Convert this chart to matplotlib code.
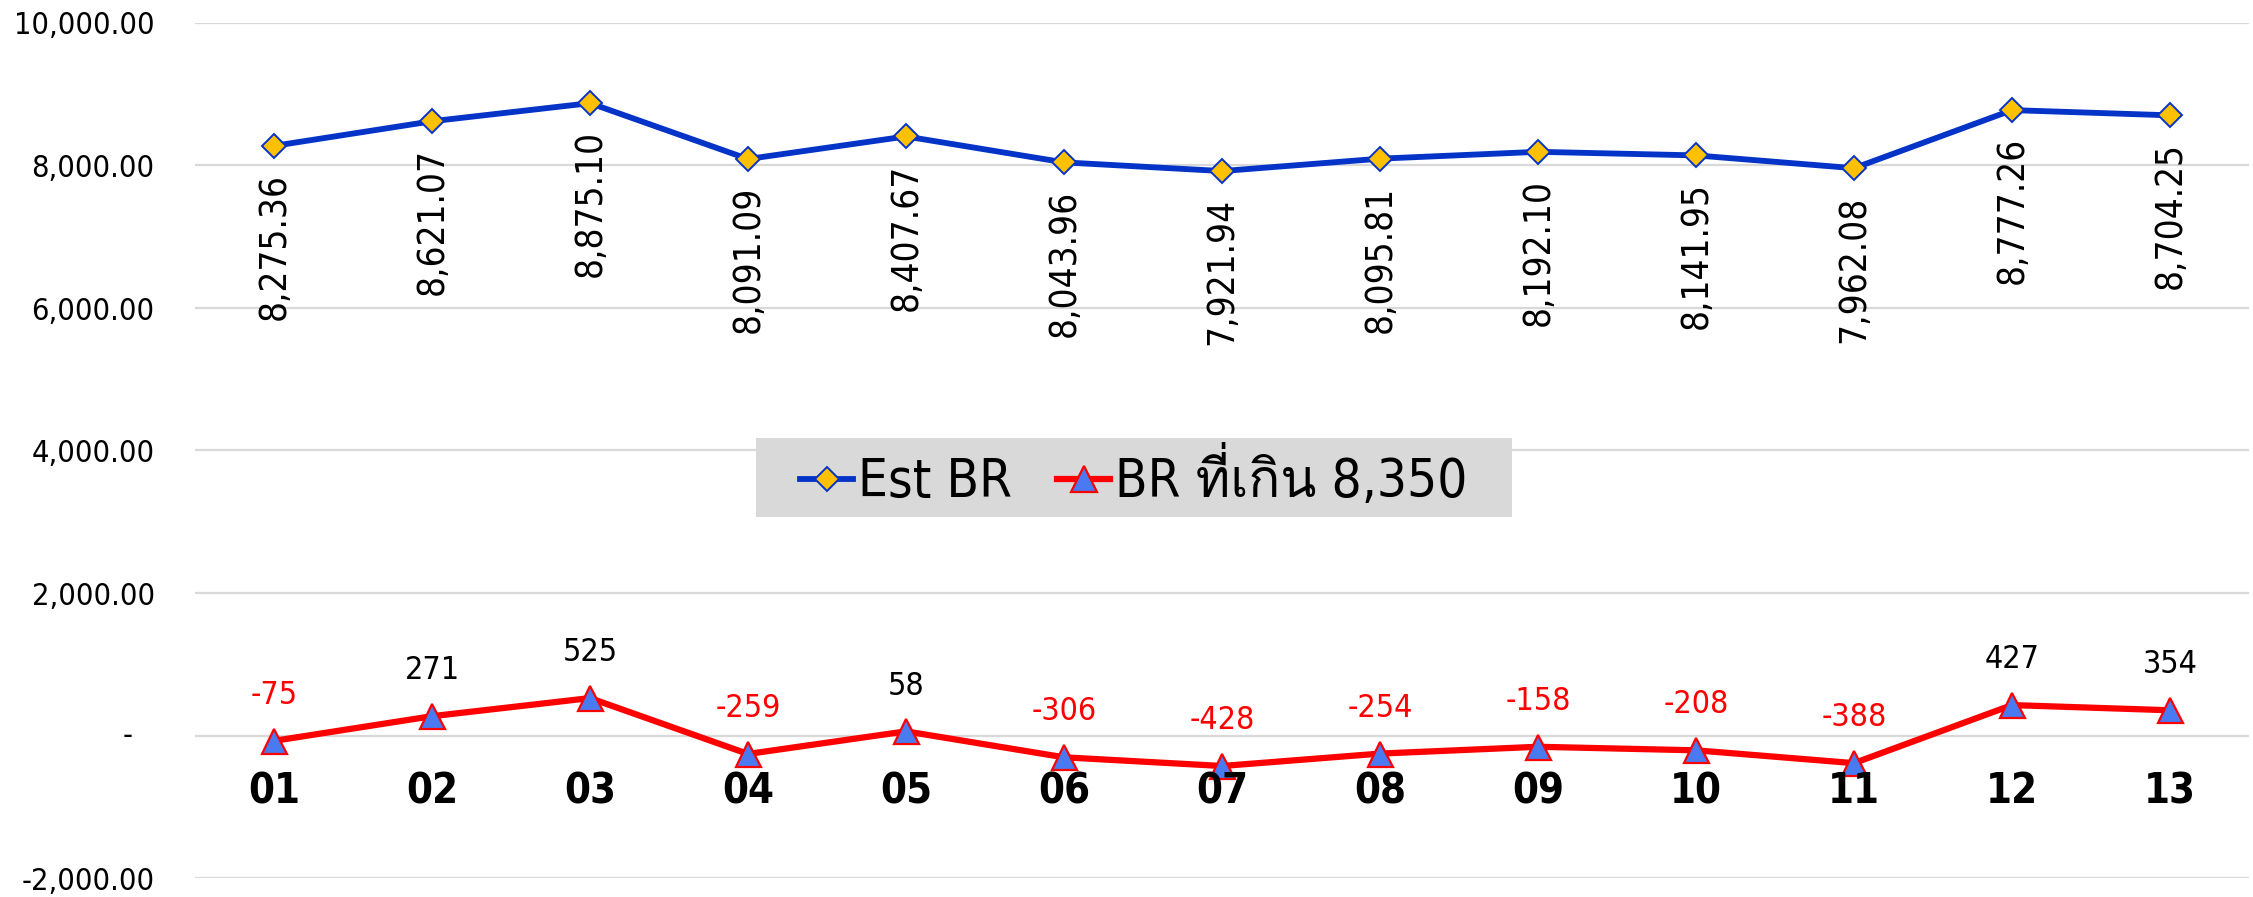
import matplotlib
matplotlib.use("Agg")
import matplotlib.pyplot as plt
from matplotlib.patches import Rectangle

plt.rcParams['font.family'] = ['DejaVu Sans', 'Loma', 'Sarabun']
plt.rcParams['font.stretch'] = 'condensed'

# data
periods = ['01', '02', '03', '04', '05', '06', '07', '08', '09', '10', '11', '12', '13']
est_br = [8275.36, 8621.07, 8875.10, 8091.09, 8407.67, 8043.96, 7921.94,
          8095.81, 8192.10, 8141.95, 7962.08, 8777.26, 8704.25]
br_over = [-75, 271, 525, -259, 58, -306, -428, -254, -158, -208, -388, 427, 354]
yticks = [-2000, 0, 2000, 4000, 6000, 8000, 10000]

x = list(range(1, len(periods) + 1))

fig = plt.figure(figsize=(22.53, 8.97), dpi=100)
ax = fig.add_axes([195 / 2253, 19 / 897, (2249 - 195) / 2253, (878 - 23) / 897])

ax.plot(x, est_br, color='#0433c8', lw=4.2, marker='D', ms=12,
        mfc='#ffc000', mec='#0433c8', mew=1.4, label='Est BR', zorder=3)
ax.plot(x, br_over, color='#ff0000', lw=4.5, marker='^', ms=18,
        mfc='#4a7af2', mec='#ff0000', mew=1.6, label='BR ที่เกิน 8,350', zorder=3)

ax.set_xlim(0.5, 13.5)
ax.set_ylim(-2000, 10000)
ax.set_yticks(yticks)
ax.set_yticklabels(['{:,.2f}'.format(v) if v != 0 else '' for v in yticks])
ax.tick_params(axis='y', length=0, pad=29, labelsize=22)
ax.set_xticks([])
ax.annotate('-', xy=(0, 0), xycoords=('axes fraction', 'data'), xytext=(-44.6, 0),
            textcoords='offset points', ha='right', va='center', fontsize=22)

ax.grid(axis='y', color='#d9d9d9', lw=1.6)
ax.set_axisbelow(True)
for s in ax.spines.values():
    s.set_visible(False)

# category labels sit just under the zero line
for xi, p in zip(x, periods):
    ax.annotate(p, xy=(xi, 0), xytext=(0, -40), textcoords='offset points',
                ha='center', va='center', fontsize=30, fontweight='bold')

# data labels
for xi, v in zip(x, est_br):
    ax.annotate('{:,.2f}'.format(v), xy=(xi, v), xytext=(0, -19.5),
                textcoords='offset points', ha='center', va='top',
                rotation=90, fontsize=26.5)
for xi, v in zip(x, br_over):
    ax.annotate('{:,}'.format(v), xy=(xi, v), xytext=(0, 21.5),
                textcoords='offset points', ha='center', va='bottom',
                fontsize=23, color='red' if v < 0 else 'black')

# legend on a grey box over the plot
box = Rectangle((756 / 2253, 1 - 517 / 897), (1512 - 756) / 2253, 79 / 897,
                transform=fig.transFigure, facecolor='#d9d9d9', edgecolor='none',
                zorder=4, clip_on=False)
ax.add_patch(box)
leg = ax.legend(loc='center', bbox_to_anchor=(1134 / 2253, 1 - 477.5 / 897),
                bbox_transform=fig.transFigure, ncol=2, prop={'size': 38},
                frameon=False, handlelength=1.0, handletextpad=0.1,
                columnspacing=0.85, markerscale=1.05)
leg.set_zorder(5)

fig.savefig('out.png', dpi=100)
